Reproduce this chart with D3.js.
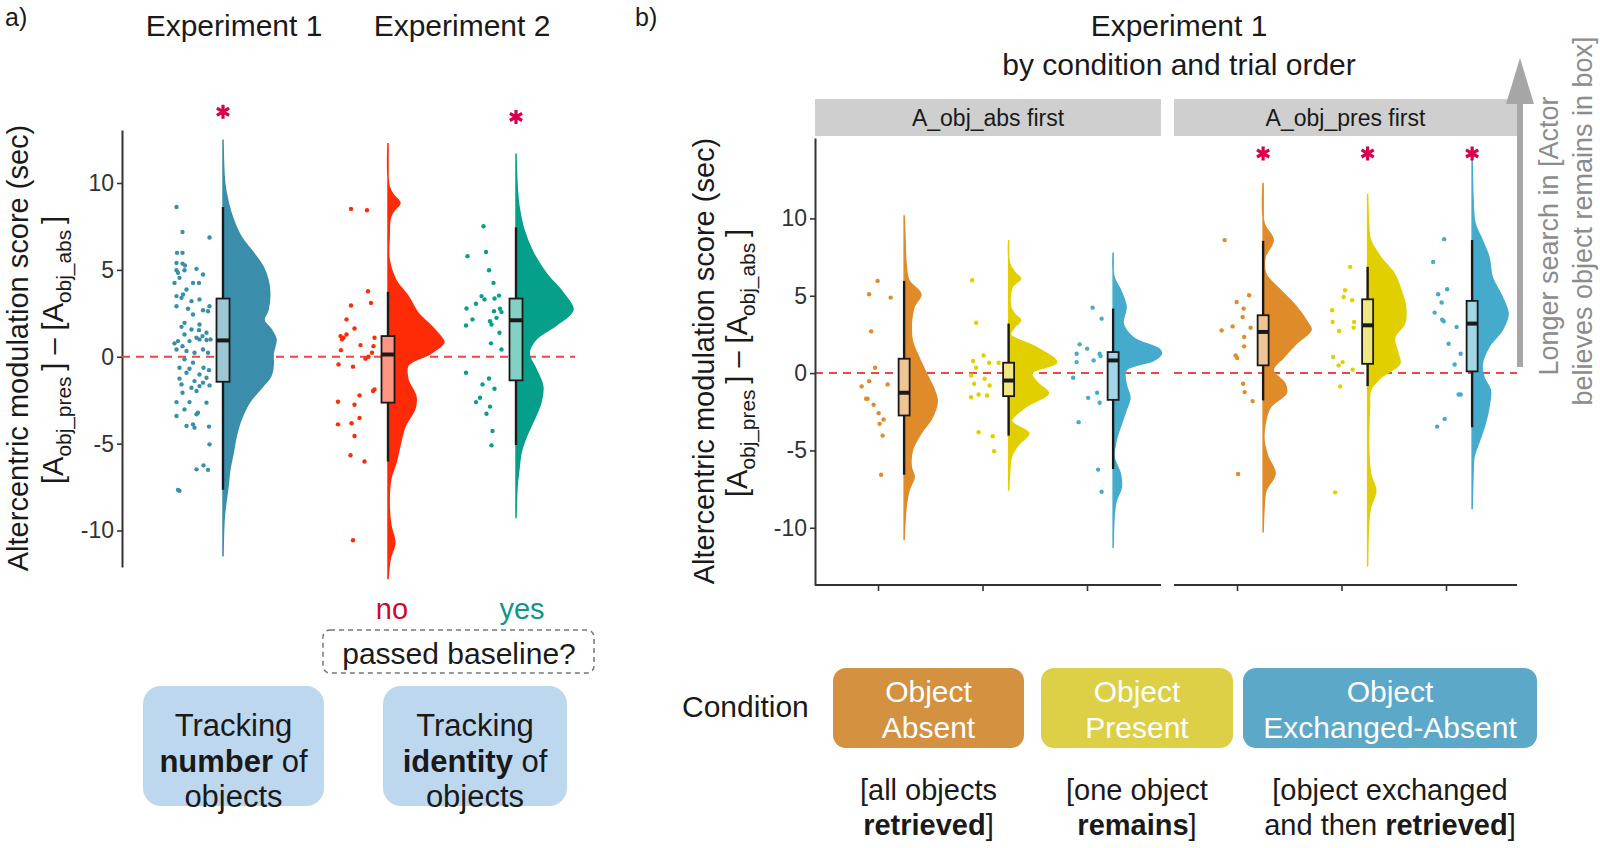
<!DOCTYPE html>
<html>
<head>
<meta charset="utf-8">
<script src="https://cdn.jsdelivr.net/npm/d3@7"></script>
<style>
  body { margin: 0; background: #fff; }
  svg { display: block; font-family: "Liberation Sans", Arial, sans-serif; }
</style>
</head>
<body>
<script>
// ---------- panel a data ----------
const groupsExp2 = ["no", "yes"];
const colorExp1 = "#3a8eab";
const colorsExp2 = ["#ff2b06", "#06a08a"];
const ticksY = [-10, -5, 0, 5, 10];

// box stats: [lower whisker, q1, median, q3, upper whisker]
const boxExp1 = [-7.66, -1.44, 0.94, 3.35, 8.62];
const boxNo = [-6.03, -2.64, 0.13, 1.19, 3.74];
const boxYes = [-5.08, -1.36, 2.1, 3.35, 7.45];

// half-violin profiles: [score, relative density]
const violinExp1 = [[12.5,0],[10,.03],[8.9,.09],[7.9,.18],[6.9,.32],[6,.53],[5.2,.7],[4.4,.79],[3.7,.82],[2.7,.79],[2.1,.72],[1.6,.84],[1.0,.93],[0.2,.88],[-0.5,.88],[-1.1,.84],[-1.7,.7],[-2.6,.47],[-3.6,.32],[-4.6,.23],[-5.5,.18],[-6.5,.12],[-7.4,.09],[-8.4,.05],[-9.3,.02],[-11.5,0]];
const violinNo = [[12.3,0],[9.8,.02],[9.3,.1],[8.85,.21],[8.4,.1],[8.0,.04],[6.9,.02],[5.6,.02],[4.4,.14],[3.5,.35],[2.5,.53],[1.8,.75],[1.0,.96],[0.8,.98],[0.2,.75],[-0.5,.35],[-1.3,.35],[-2.3,.49],[-3.0,.47],[-4.0,.3],[-5.1,.21],[-6.1,.14],[-7.0,.05],[-8.4,.02],[-9.7,.05],[-10.7,.12],[-11.6,.04],[-12.8,0]];
const violinYes = [[11.7,0],[9.8,.02],[8.7,.05],[7.3,.14],[6.0,.3],[4.8,.53],[3.7,.82],[2.7,1],[1.8,.7],[1.0,.35],[0.2,.23],[-0.7,.35],[-1.7,.47],[-2.6,.44],[-3.6,.32],[-4.6,.18],[-5.5,.09],[-6.5,.05],[-7.4,.02],[-9.3,0]];

// raw points: [score, jitter]
const dotsExp1 = [[8.62,.93],[7.18,.81],[6.86,.27],[5.98,.92],[5.98,.81],[5.4,.93],[5.36,.81],[5.25,.76],[4.98,.93],[4.83,.9],[4.98,.77],[5.06,.53],[4.73,.4],[4.54,.87],[4.25,.97],[4.25,.6],[4.25,.48],[3.87,.73],[3.49,.93],[3.58,.8],[3.39,.83],[3.2,.63],[3.3,.47],[2.91,.93],[2.76,.7],[2.91,.27],[2.68,.4],[2.62,.3],[2.43,.6],[1.95,.77],[1.86,.47],[1.72,.83],[1.57,.63],[1.53,.48],[1.38,.33],[1.19,.41],[1.28,.77],[1.09,.53],[0.9,.9],[0.9,.67],[0.77,.97],[0.61,.81],[1.0,.47],[0.96,.33],[1.0,.25],[0.42,.93],[0.33,.73],[0.42,.4],[0.23,.57],[0.23,.3],[-0.15,.77],[-0.34,.6],[-0.63,.87],[-0.69,.67],[-0.63,.39],[-0.77,.28],[-0.92,.73],[-1.02,.47],[-1.26,.87],[-1.21,.33],[-1.4,.57],[-1.49,.4],[-1.59,.83],[-1.78,.63],[-1.69,.47],[-1.65,.27],[-2.07,.81],[-1.97,.53],[-2.61,.93],[-2.61,.67],[-2.64,.33],[-3.03,.77],[-3.22,.5],[-3.31,.53],[-3.41,.93],[-3.89,.6],[-3.98,.73],[-4.02,.28],[-4.08,.57],[-5.04,.27],[-6.48,.53],[-6.51,.3],[-6.25,.39],[-7.66,.9],[-7.72,.87]];
const dotsNo = [[8.51,.74],[8.43,.42],[3.77,.4],[3.1,.34],[2.95,.74],[2.15,.83],[1.63,.67],[1.19,.95],[1.09,.89],[1.0,.92],[1.28,.83],[1.09,.27],[0.67,.55],[0.61,.29],[0.38,.94],[0.23,.32],[0.0,.39],[-0.11,.45],[-0.44,.99],[-0.57,.7],[-1.88,.27],[-1.97,.3],[-2.22,.57],[-2.59,1.0],[-2.76,.67],[-3.52,.57],[-3.89,1.0],[-3.83,.73],[-4.56,.67],[-5.67,.75],[-6.03,.47],[-10.56,.7]];
const dotsYes = [[7.51,.65],[5.79,.97],[6.03,.6],[4.98,.54],[4.25,.45],[3.49,.69],[3.3,.63],[3.35,.43],[3.52,.34],[3.05,.8],[2.78,.99],[2.62,.44],[2.76,.32],[2.57,.29],[2.24,.39],[2.05,.52],[1.86,.49],[2.15,.87],[1.8,1.0],[1.38,.33],[0.77,.5],[0.42,.29],[-0.92,1.0],[-1.25,.54],[-1.59,.67],[-1.84,.43],[-2.36,.72],[-2.61,.8],[-2.87,.52],[-3.28,.59],[-4.27,.47],[-5.1,.49]];

// significance markers (score position of the star)
const starsA = [["exp1", 14.1], ["yes", 13.8]];

// ---------- panel b data ----------
const orders = ["A_obj_abs first", "A_obj_pres first"];
const conditions = ["absent", "present", "exchanged"];
const conditionColors = ["#e08b2a", "#e2cf00", "#45abcc"];
const conditionLabels = [["Object", "Absent"], ["Object", "Present"], ["Object", "Exchanged-Absent"]];
const legendFills = ["#d4913f", "#ddd047", "#5ca8c8"];

const boxB = [
  [[-6.57, -2.74, -1.27, 0.93, 5.96], [-4.04, -1.49, -0.48, 0.67, 3.2], [-6.2, -1.73, 0.82, 1.36, 4.17]],
  [[-1.77, 0.5, 2.66, 3.74, 8.55], [-0.84, 0.6, 3.09, 4.77, 6.87], [-3.5, 0.11, 3.2, 4.67, 8.6]]
];

const violinB = [
  [
    [[10.2,0],[8.6,.02],[7.1,.04],[6.0,.1],[5.1,.35],[4.3,.21],[3.2,.15],[2.1,.17],[1.0,.31],[0,.46],[-1.1,.63],[-1.8,.69],[-2.9,.58],[-3.9,.35],[-5.0,.17],[-6.1,.15],[-6.7,.21],[-7.6,.1],[-8.7,.04],[-10.8,0]],
    [[8.6,0],[7.1,.02],[6.5,.13],[6.1,.25],[5.6,.08],[4.3,.04],[3.8,.13],[3.4,.25],[3.0,.13],[2.5,.04],[1.7,.56],[0.7,1],[0,.48],[-0.7,.63],[-1.3,.83],[-2.2,.35],[-3.1,.06],[-3.9,.42],[-4.6,.21],[-5.4,.06],[-6.5,.02],[-7.6,0]],
    [[7.8,0],[6.2,.02],[5.4,.15],[4.3,.27],[3.2,.21],[2.3,.42],[1.5,.98],[1.2,1],[0.8,.83],[0.2,.27],[-0.7,.27],[-1.6,.35],[-2.4,.27],[-3.3,.17],[-4.4,.06],[-5.4,.02],[-6.5,.15],[-7.4,.17],[-8.3,.06],[-9.3,.02],[-11.3,0]]
  ],
  [
    [[12.3,0],[9.7,.02],[8.6,.21],[7.5,.04],[6.4,.06],[5.4,.35],[4.3,.69],[3.2,.94],[2.8,1],[1.9,.69],[1.0,.42],[0.2,.21],[-0.7,.46],[-1.3,.48],[-2.2,.15],[-3.3,.04],[-4.4,.02],[-5.4,.1],[-6.5,.25],[-7.6,.06],[-8.7,.02],[-10.3,0]],
    [[11.6,0],[9.7,.02],[8.6,.06],[7.5,.27],[6.4,.56],[5.4,.69],[4.3,.79],[3.2,.77],[2.3,.56],[1.3,.63],[0.6,.67],[-0.3,.27],[-1.1,.06],[-2.2,.04],[-4.4,.02],[-6.5,.06],[-7.6,.17],[-8.7,.06],[-9.8,.02],[-12.5,0]],
    [[14.0,0],[11.2,.02],[9.7,.06],[8.6,.21],[7.5,.35],[6.2,.42],[4.9,.63],[3.8,.75],[2.8,.63],[1.7,.35],[0.6,.21],[-0.3,.25],[-1.1,.38],[-2.2,.35],[-3.3,.27],[-4.4,.15],[-5.4,.04],[-6.5,.02],[-8.8,0]]
  ]
];

const dotsB = [
  [
    [[5.96,.53],[5.1,.7],[4.88,.27],[2.7,.66],[0.35,.58],[-0.52,.7],[-0.86,.85],[-0.73,.33],[-1.66,.73],[-1.66,.76],[-2.05,.61],[-2.59,.51],[-3.0,.41],[-3.28,.49],[-4.04,.43],[-6.57,.46]],
    [[6.0,.73],[3.26,.65],[1.14,.5],[0.78,.71],[0.67,.39],[0.67,.2],[0.35,.65],[-0.15,.75],[-0.37,.48],[-0.69,.69],[-0.8,.38],[-1.56,.75],[-1.38,.6],[-1.45,.43],[-3.82,.6],[-4.08,.32],[-5.05,.29]],
    [[4.23,.41],[3.52,.23],[1.86,.67],[1.58,.52],[1.25,.73],[0.71,.73],[1.25,.27],[1.1,.25],[0.82,.39],[-0.3,.8],[-1.6,.5],[-1.27,.32],[-1.92,.27],[-3.17,.69],[-6.24,.3],[-7.67,.23]]
  ],
  [
    [[8.6,.77],[5.03,.28],[4.6,.53],[4.17,.39],[3.63,.41],[2.94,.25],[2.76,.83],[3.02,.61],[2.33,.38],[1.73,.38],[1.14,.55],[0.97,.52],[-0.69,.4],[-1.23,.37],[-1.81,.21],[-6.52,.5]],
    [[6.87,.35],[5.36,.45],[4.92,.48],[4.71,.31],[4.06,.71],[3.3,.27],[3.3,.7],[2.72,.57],[2.94,.28],[1.04,.69],[0.71,.5],[0.5,.58],[0.22,.3],[-0.86,.55],[-7.71,.65]],
    [[8.66,.56],[7.19,.78],[5.42,.5],[5.1,.68],[4.56,.61],[3.91,.75],[3.46,.6],[3.35,.57],[2.98,.31],[1.9,.47],[1.25,.23],[0.56,.35],[-1.38,.27],[-1.38,.23],[-2.96,.55],[-3.46,.7]]
  ]
];

const starsB = [[1, "absent", 14.2], [1, "present", 14.2], [1, "exchanged", 14.2]];
const notes = [[["[all objects", ""], ["", "retrieved", "]"]], [["[one object", ""], ["", "remains", "]"]], [["[object exchanged", ""], ["and then ", "retrieved", "]"]]];

// ---------- setup ----------
const svg = d3.select("body").append("svg").attr("width", 1600).attr("height", 848);
const ink = "#1a1a1a";
const light = c => d3.interpolateRgb(c, "#fff")(0.5);

function styleAxis(g) {
  g.select(".domain").attr("stroke", "#333").attr("stroke-width", 2);
  g.selectAll(".tick line").attr("stroke", "#333").attr("stroke-width", 1.6);
  g.selectAll(".tick text").attr("font-size", 23).attr("fill", "#333")
    .attr("font-family", "Liberation Sans, Arial, sans-serif");
}

function star(g, x, y) {
  g.append("path").attr("d", d3.symbol(d3.symbolAsterisk, 140)())
    .attr("transform", `translate(${x},${y})`)
    .attr("stroke", "#d6004c").attr("stroke-width", 3.2).attr("fill", "none");
}

function raincloud(g, cx, color, violin, box, dots, y, w, jit, bw) {
  const area = d3.area()
    .curve(d3.curveCatmullRom.alpha(0.5))
    .y(d => y(d[0])).x0(cx).x1(d => cx + w(d[1]));
  g.append("path").datum(violin).attr("d", area)
    .attr("fill", color).attr("stroke", color).attr("stroke-width", 1.5);
  g.selectAll(null).data(dots).join("circle")
    .attr("cx", d => cx + jit(d[1])).attr("cy", d => y(d[0]))
    .attr("r", 2.2).attr("fill", color);
  g.append("line").attr("x1", cx).attr("x2", cx)
    .attr("y1", y(box[4])).attr("y2", y(box[0]))
    .attr("stroke", ink).attr("stroke-width", 2.4);
  g.append("rect").attr("x", cx - bw / 2).attr("width", bw)
    .attr("y", y(box[3])).attr("height", y(box[1]) - y(box[3]))
    .attr("fill", light(color)).attr("stroke", ink).attr("stroke-width", 1.8);
  g.append("line").attr("x1", cx - bw / 2).attr("x2", cx + bw / 2)
    .attr("y1", y(box[2])).attr("y2", y(box[2]))
    .attr("stroke", ink).attr("stroke-width", 4);
}

function axisTitle(g, x, y, size, parts, fill) {
  const t = g.append("text").attr("transform", `translate(${x},${y}) rotate(-90)`)
    .attr("text-anchor", "middle").attr("font-size", size).attr("fill", fill || ink);
  parts.forEach(p => {
    if (p.sub) {
      t.append("tspan").attr("font-size", size * 0.72).attr("dy", 8).text(p.sub);
      t.append("tspan").attr("dy", -8).text("\u2009");
    } else t.append("tspan").text(p.t);
  });
  return t;
}
const titleParts = [{t: "[A"}, {sub: "obj_pres"}, {t: "] \u2013 [A"}, {sub: "obj_abs"}, {t: "]"}];

function label(g, x, y, size, txt, fill, anchor) {
  return g.append("text").attr("x", x).attr("y", y).attr("text-anchor", anchor || "middle")
    .attr("font-size", size).attr("fill", fill || ink).text(txt);
}

// ---------- panel a ----------
const a = svg.append("g");
const yA = d3.scaleLinear([-12.1, 13.05], [567, 130]);
const xExp1 = d3.scalePoint(["exp1"], [160, 286]).padding(0.5);
const xExp2 = d3.scalePoint(groupsExp2, [324, 580]).padding(0.5);
const wA = d3.scaleLinear([0, 1], [0, 57]);
const jitA = d3.scaleLinear([0, 1], [0, -50]);

label(a, 5, 26, 25, "a)", ink, "start");
label(a, xExp1("exp1") + 11, 36, 30, "Experiment 1");
label(a, d3.mean(groupsExp2, xExp2) + 10, 36, 30, "Experiment 2");

a.append("g").attr("transform", "translate(122,0)")
  .call(d3.axisLeft(yA).tickValues(ticksY).tickFormat(d => String(d)).tickSize(5).tickSizeOuter(0))
  .call(styleAxis);

a.append("line").attr("x1", 122).attr("x2", 575).attr("y1", yA(0)).attr("y2", yA(0))
  .attr("stroke", "#f04545").attr("stroke-width", 2).attr("stroke-dasharray", "8,6");

raincloud(a, xExp1("exp1"), colorExp1, violinExp1, boxExp1, dotsExp1, yA, wA, jitA, 13);
raincloud(a, xExp2("no"), colorsExp2[0], violinNo, boxNo, dotsNo, yA, wA, jitA, 13);
raincloud(a, xExp2("yes"), colorsExp2[1], violinYes, boxYes, dotsYes, yA, wA, jitA, 13);

starsA.forEach(([g, v]) => star(a, g === "exp1" ? xExp1(g) : xExp2(g), yA(v)));

axisTitle(a, 28, 348, 29, [{t: "Altercentric modulation score (sec)"}]);
axisTitle(a, 63, 350, 29, titleParts);

// passed baseline
label(a, xExp2("no") + 4, 619, 29, "no", "#cc0a2a");
label(a, xExp2("yes") + 6, 619, 29, "yes", "#12968a");
a.append("rect").attr("x", 323).attr("y", 630).attr("width", 271).attr("height", 43).attr("rx", 7)
  .attr("fill", "none").attr("stroke", "#777").attr("stroke-width", 1.5).attr("stroke-dasharray", "5,4");
label(a, 459, 664, 30, "passed baseline?");

const trackBoxes = [[143, 181, "number"], [383, 184, "identity"]];
trackBoxes.forEach(([x, w, word]) => {
  a.append("rect").attr("x", x).attr("y", 686).attr("width", w).attr("height", 120).attr("rx", 18)
    .attr("fill", "#bdd7ee");
  const cx = x + w / 2;
  label(a, cx, 736, 31, "Tracking");
  const t = label(a, cx, 772, 31, null);
  t.append("tspan").attr("font-weight", "bold").text(word);
  t.append("tspan").text(" of");
  label(a, cx, 807, 31, "objects");
});

// ---------- panel b ----------
const b = svg.append("g");
const yB = d3.scaleLinear([-13.7, 15.2], [585, 138]);
const panelX = [[815, 1161], [1174, 1517]];
const xB = panelX.map(p => d3.scalePoint(conditions, [p[0] + 63, p[0] + 272]));
const wB = d3.scaleLinear([0, 1], [0, 48]);
const jitB = d3.scaleLinear([0, 1], [0, -50]);
const nudge = s => s.step() * 0.25;

label(b, 635, 26, 25, "b)", ink, "start");
label(b, 1179, 36, 30, "Experiment 1");
label(b, 1179, 75, 30, "by condition and trial order");

orders.forEach((o, i) => {
  const [x0, x1] = panelX[i];
  b.append("rect").attr("x", x0).attr("y", 99).attr("width", x1 - x0).attr("height", 37).attr("fill", "#cfcfcf");
  label(b, (x0 + x1) / 2, 126, 23, o);
  const ax = b.append("g").attr("transform", "translate(0,585)")
    .call(d3.axisBottom(xB[i]).tickFormat("").tickSize(6).tickSizeOuter(0));
  ax.select(".domain").remove();
  ax.selectAll(".tick line").attr("stroke", "#333").attr("stroke-width", 1.6);
  b.append("line").attr("x1", x0).attr("x2", x1).attr("y1", 585).attr("y2", 585)
    .attr("stroke", "#333").attr("stroke-width", 2);
  b.append("line").attr("x1", x0).attr("x2", x1).attr("y1", yB(0)).attr("y2", yB(0))
    .attr("stroke", "#f04545").attr("stroke-width", 2).attr("stroke-dasharray", "8,6");
  conditions.forEach((c, j) => {
    const cx = xB[i](c) + nudge(xB[i]);
    raincloud(b, cx, conditionColors[j], violinB[i][j], boxB[i][j], dotsB[i][j], yB, wB, jitB, 11);
  });
});

b.append("g").attr("transform", "translate(815,0)")
  .call(d3.axisLeft(yB).tickValues(ticksY).tickFormat(d => String(d)).tickSize(5).tickSizeOuter(0))
  .call(styleAxis);

starsB.forEach(([i, c, v]) => star(b, xB[i](c) + nudge(xB[i]), yB(v)));

axisTitle(b, 714, 361, 29, [{t: "Altercentric modulation score (sec)"}]);
axisTitle(b, 747, 363, 29, titleParts);

// arrow and note on the right
b.append("rect").attr("x", 1517).attr("y", 100).attr("width", 6).attr("height", 267).attr("fill", "#a6a6a6");
b.append("path").attr("d", "M1506,104L1534,104L1520,58Z").attr("fill", "#a6a6a6");
axisTitle(b, 1558, 236, 27, [{t: "Longer search in [Actor"}], "#8c8c8c");
axisTitle(b, 1592, 221, 27, [{t: "believes object remains in box]"}], "#8c8c8c");

// condition legend
label(b, 682, 717, 30, "Condition", ink, "start");
const legendX = [[833, 1024], [1041, 1233], [1243, 1537]];
conditions.forEach((c, j) => {
  const [x0, x1] = legendX[j];
  const cx = (x0 + x1) / 2;
  b.append("rect").attr("x", x0).attr("y", 668).attr("width", x1 - x0).attr("height", 80).attr("rx", 13)
    .attr("fill", legendFills[j]);
  conditionLabels[j].forEach((l, k) => label(b, cx, 702 + k * 36, 30, l, "#fff"));
  notes[j].forEach((line, k) => {
    const t = label(b, cx, 800 + k * 35, 29, null);
    line.forEach((s, n) => { if (s) t.append("tspan").attr("font-weight", n === 1 ? "bold" : null).text(s); });
  });
});
</script>
</body>
</html>
